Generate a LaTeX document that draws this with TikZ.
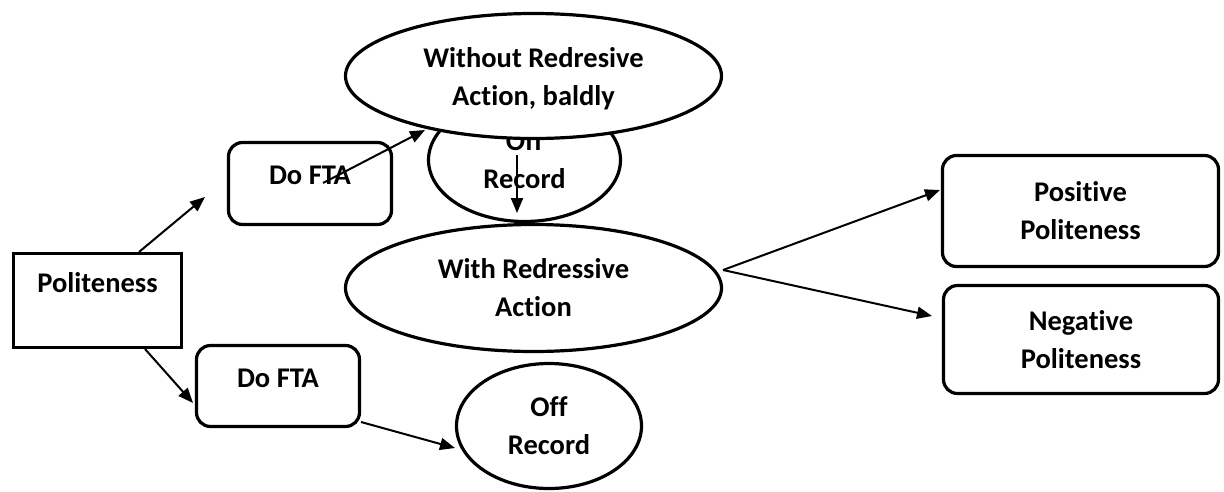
\documentclass[tikz,border=0pt]{standalone}
\usepackage{fontspec}
\setmainfont[Ligatures=NoCommon]{Carlito}
\usetikzlibrary{shapes.geometric,arrows.meta,calc}
\begin{document}
\begin{tikzpicture}[x=1pt,y=1pt,
  every node/.style={font=\bfseries\fontsize{28.5}{38}\selectfont, align=center, inner sep=0pt},
  shapeline/.style={draw=black, line width=3.2pt, fill=white},
  sqbox/.style={shapeline, rectangle},
  rbox/.style={shapeline, rectangle, rounded corners=14pt},
  oval/.style={shapeline, ellipse},
  conn/.style={draw=black, line width=2pt, -{Triangle[length=15pt,width=12pt]}}
]
\useasboundingbox (0,0) rectangle (1224,-491);

% nodes
\node[sqbox, minimum width=168, minimum height=94,
      label={[yshift=17.5]center:Politeness}] (pol) at (97.5,-300.5) {};
\node[rbox, minimum width=163, minimum height=82,
      label={[yshift=8.5]center:Do FTA}] (dofta1) at (310,-183.5) {};
\node[rbox, minimum width=163, minimum height=81,
      label={[yshift=8]center:Do FTA}] (dofta2) at (278,-386) {};
\node[oval, minimum width=192, minimum height=123] (offtop) at (524.5,-160) {Off\\Record};
\node[oval, minimum width=376, minimum height=125,
      label={[yshift=-3]center:Without Redresive\\Action, baldly}] (without) at (533.5,-76) {};
\node[oval, minimum width=376, minimum height=127] (with) at (533.5,-288) {With Redressive\\Action};
\node[oval, minimum width=185, minimum height=125] (offbot) at (549,-426) {Off\\Record};
\node[rbox, minimum width=276, minimum height=111] (pos) at (1080.5,-211) {Positive\\Politeness};
\node[rbox, minimum width=275, minimum height=108] (neg) at (1081,-339.5) {Negative\\Politeness};

% connectors
\draw[conn] ($(pol.center)+(41.5,48.5)$) -- ($(dofta1.center)+(-105,-13.5)$);
\draw[conn] ($(dofta1.center)+(13,0.5)$) -- ($(without.center)+(-108.5,-54)$);
\draw[conn] ($(offtop.center)+(-7.5,5)$) -- ($(offtop.center)+(-7.5,-53)$);
\draw[conn] ($(with.center)+(189.5,18)$) -- ($(pos.center)+(-140.5,21)$);
\draw[conn] ($(with.center)+(189.5,18)$) -- ($(neg.center)+(-149,23.5)$);
\draw[conn] ($(pol.center)+(47.5,-48.5)$) -- ($(dofta2.center)+(-85,-17)$);
\draw[conn] ($(dofta2.center)+(83,-36)$) -- ($(offbot.center)+(-94,-22)$);
\end{tikzpicture}
\end{document}
